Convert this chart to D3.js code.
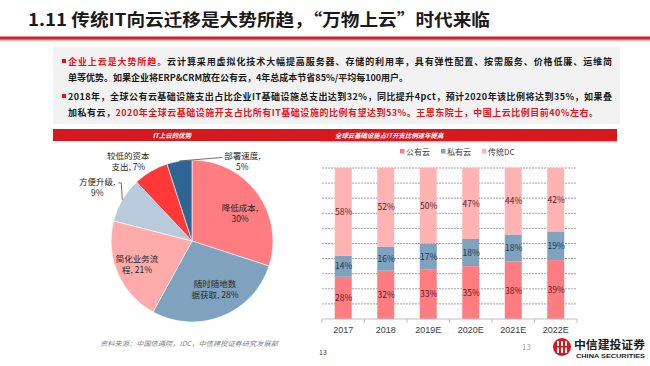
<!DOCTYPE html>
<html><head><meta charset="utf-8">
<script src="https://cdn.jsdelivr.net/npm/d3@7"></script>
<style>
html,body{margin:0;padding:0;background:#fff;}
svg{display:block;font-family:"Noto Sans CJK SC","Noto Sans",sans-serif;}
</style></head>
<body>
<svg id="c" width="650" height="366"></svg>
<script>
// ---------- data ----------
const titleText = "1.11 传统IT向云迁移是大势所趋，“万物上云”时代来临";
const pieTitle = "IT上云的优势";
const pieCats = ["降低成本","随时随地数据获取","简化业务流程","方便升级","较低的资本支出","部署速度"];
const pieVals = [30, 28, 21, 9, 7, 5];
const barTitle = "全球云基础设施占IT开支比例逐年提高";
const years = ["2017","2018","2019E","2020E","2021E","2022E"];
const seriesNames = ["公有云","私有云","传统DC"];
const publicCloud = [28, 32, 33, 35, 38, 39];
const privateCloud = [14, 16, 17, 18, 18, 19];
const traditionalDC = [58, 52, 50, 47, 44, 42];
const sourceText = "资料来源：中国信通院，IDC，中信建投证券研究发展部";
const pageNum = "13";

// ---------- styles ----------
const pieColors = ["#ff7c80","#7fa2bf","#ffabab","#b8cadb","#ff3838","#2f6592"];
const barColors = ["#ff7c80","#7fa2bf","#ffb3b3"];
const labelColors = ["#5a1c1c","#1d3550","#5a1c1c"];
const RED = "#e8141b";

const svg = d3.select("#c");

// ---------- title ----------
svg.append("text").attr("x",28).attr("y",26)
  .attr("font-size",17).attr("font-weight","bold").attr("fill","#1a1a1a")
  .attr("textLength",462).attr("lengthAdjust","spacingAndGlyphs")
  .text(titleText);
svg.append("rect").attr("x",0).attr("y",39).attr("width",650).attr("height",2).attr("fill","#e6b8b8");
svg.append("rect").attr("x",0).attr("y",36.5).attr("width",650).attr("height",3).attr("fill","#c8282d");

// ---------- text box ----------
svg.append("rect").attr("x",53).attr("y",47).attr("width",567).attr("height",77).attr("fill","#f2f2f2");
const paras = [
  {y:65, bullet:true, len:544, parts:[["企业上云是大势所趋。",RED],["云计算采用虚拟化技术大幅提高服务器、存储的利用率，具有弹性配置、按需服务、价格低廉、运维简","#1a1a1a"]]},
  {y:81, bullet:false, len:null, parts:[["单等优势。如果企业将ERP&CRM放在公有云，4年总成本节省85%/平均每100用户。","#1a1a1a"]]},
  {y:100, bullet:true, len:544, parts:[["2018年，全球公有云基础设施支出占比企业IT基础设施总支出达到32%，同比提升4pct，预计2020年该比例将达到35%，如果叠","#1a1a1a"]]},
  {y:116, bullet:false, len:530, parts:[["加私有云，","#1a1a1a"],["2020年全球云基础设施开支占比所有IT基础设施的比例有望达到53%。王恩东院士，中国上云比例目前40%左右。",RED]]}
];
paras.forEach(p=>{
  if(p.bullet) svg.append("rect").attr("x",62).attr("y",p.y-6).attr("width",4).attr("height",4).attr("fill",RED);
  const t = svg.append("text").attr("x",68).attr("y",p.y).attr("font-size",9).attr("font-weight","bold");
  if(p.len) t.attr("textLength",p.len).attr("lengthAdjust","spacing");
  p.parts.forEach(pt=>t.append("tspan").attr("fill",pt[1]).text(pt[0]));
});

// ---------- panel headers ----------
svg.append("rect").attr("x",53).attr("y",129).attr("width",267).attr("height",12).attr("fill","#d7191f");
svg.append("text").attr("x",172).attr("y",138).attr("text-anchor","middle").attr("font-size",6.5)
  .attr("font-weight","bold").attr("font-style","italic").attr("fill","#fff").text(pieTitle);
svg.append("rect").attr("x",320).attr("y",129).attr("width",297).attr("height",12).attr("fill","#d7191f");
svg.append("rect").attr("x",320).attr("y",141).attr("width",297).attr("height",1.5).attr("fill","#c9c9c9");
svg.append("text").attr("x",335).attr("y",138).attr("font-size",6.4)
  .attr("font-weight","bold").attr("font-style","italic").attr("fill","#fff").text(barTitle);

// ---------- pie ----------
const cx = 192, cy = 241, R = 81;
const pie = d3.pie().sort(null).value(d=>d)(pieVals);
const arc = d3.arc().innerRadius(0).outerRadius(R);
const g = svg.append("g").attr("transform",`translate(${cx},${cy})`);
g.selectAll("path").data(pie).join("path").attr("d",arc)
  .attr("fill",(d,i)=>pieColors[i]).attr("stroke","#fff").attr("stroke-width",0.6);

// label layout: radius factor and nudges
const labLayout = [
  {k:0.68, dx:3.5, dy:5},
  {k:0.64, dx:4, dy:0},
  {k:0.74, dx:0, dy:0},
  {k:1.36, dx:0, dy:3, lead:true},
  {k:1.23, dx:-13, dy:6},
  {k:1.0, dx:63, dy:0, lead:true}
];
pie.forEach((d,i)=>{
  const a = (d.startAngle+d.endAngle)/2;
  const L = labLayout[i];
  const px = Math.sin(a)*R*L.k + L.dx, py = -Math.cos(a)*R*L.k + L.dy;
  const cat = pieCats[i], v = pieVals[i]+"%";
  const lines = cat.length<=4 ? [cat+",", v] : [cat.slice(0,5), cat.slice(5)+", "+v];
  const t = g.append("text").attr("text-anchor","middle").attr("font-size",8.5).attr("fill","#262626");
  lines.forEach((ln,j)=>t.append("tspan").attr("x",px).attr("y",py-2.5+j*11).text(ln));
  if(L.lead){
    const ax = Math.sin(a)*R, ay = -Math.cos(a)*R;
    let pts;
    if(px>ax){
      pts = [[ax,ay],[px-20,py-3.5]];
    } else {
      pts = [[ax,ay],[ax-1,py-5],[ax-4,py-5]];
    }
    g.append("path").attr("d",d3.line()(pts)).attr("fill","none").attr("stroke","#333").attr("stroke-width",0.7);
  }
});

// ---------- stacked bars ----------
const rows = years.map((y,i)=>({year:y, "公有云":publicCloud[i], "私有云":privateCloud[i], "传统DC":traditionalDC[i]}));
const stacked = d3.stack().keys(seriesNames)(rows);
const x = d3.scaleBand().domain(years).range([322,577]).paddingInner(0.6).paddingOuter(0.3);
const y = d3.scaleLinear().domain([0,100]).range([319,168]);

svg.append("g").selectAll("line").data(d3.range(10,101,10)).join("line")
  .attr("x1",322).attr("x2",577).attr("y1",d=>y(d)).attr("y2",d=>y(d))
  .attr("stroke","#8c8c8c").attr("stroke-width",0.8).attr("stroke-dasharray","2,1");

stacked.forEach((s,si)=>{
  const gg = svg.append("g");
  gg.selectAll("rect").data(s).join("rect")
    .attr("x",d=>x(d.data.year)).attr("width",x.bandwidth())
    .attr("y",d=>y(d[1])).attr("height",d=>y(d[0])-y(d[1]))
    .attr("fill",barColors[si]);
  gg.selectAll("text").data(s).join("text")
    .attr("x",d=>x(d.data.year)+x.bandwidth()/2+0.5)
    .attr("y",d=>(y(d[0])+y(d[1]))/2+3.2)
    .attr("text-anchor","middle").attr("font-size",8.5).attr("fill",labelColors[si])
    .text(d=>(d[1]-d[0])+"%");
});

const xAxis = svg.append("g").attr("transform","translate(0,319)");
xAxis.append("line").attr("x1",322).attr("x2",577).attr("stroke","#bfbfbf").attr("stroke-width",1);
const step = x.step();
xAxis.selectAll("line.t").data(d3.range(0,years.length+1)).join("line").attr("class","t")
  .attr("x1",d=>322+d*step).attr("x2",d=>322+d*step).attr("y1",0).attr("y2",4)
  .attr("stroke","#bfbfbf");
xAxis.selectAll("text").data(years).join("text")
  .attr("x",d=>x(d)+x.bandwidth()/2).attr("y",14).attr("text-anchor","middle")
  .attr("font-size",9).attr("font-family","Liberation Sans, Arial, sans-serif").attr("fill","#404040").text(d=>d);

let lx = 400;
seriesNames.forEach((n,i)=>{
  svg.append("rect").attr("x",lx).attr("y",149).attr("width",4.5).attr("height",4.5).attr("fill",barColors[i]);
  const t = svg.append("text").attr("x",lx+6).attr("y",155).attr("font-size",8).attr("fill","#404040").text(n);
  lx += 6 + t.node().getComputedTextLength() + 11;
});

// ---------- footer ----------
svg.append("text").attr("x",100).attr("y",346).attr("font-size",6.5).attr("font-style","italic")
  .attr("fill","#7f7f7f").attr("textLength",178).attr("lengthAdjust","spacingAndGlyphs").text(sourceText);
svg.append("text").attr("x",319).attr("y",355).attr("font-size",7).attr("fill","#404040").text(pageNum);
svg.append("text").attr("x",522).attr("y",350).attr("font-size",8).attr("fill","#a6a6a6").text(pageNum);

const lg = svg.append("g").attr("transform","translate(562,347)");
lg.append("circle").attr("r",9).attr("fill","#d7191f");
[-4,0,4].forEach(dx=>lg.append("rect").attr("x",dx-1).attr("y",-6).attr("width",2).attr("height",12).attr("fill","#fff"));
lg.append("rect").attr("x",-6).attr("y",-1).attr("width",12).attr("height",1.6).attr("fill","#d7191f");
svg.append("text").attr("x",574).attr("y",349).attr("font-size",11.5).attr("font-weight","bold").attr("fill","#1a1a1a")
  .attr("textLength",71).attr("lengthAdjust","spacingAndGlyphs").text("中信建投证券");
svg.append("text").attr("x",576).attr("y",358).attr("font-size",6).attr("font-weight","bold").attr("fill","#1a1a1a")
  .attr("font-family","Liberation Sans, Arial, sans-serif")
  .attr("textLength",69).attr("lengthAdjust","spacingAndGlyphs").text("CHINA SECURITIES");
</script>
</body></html>
